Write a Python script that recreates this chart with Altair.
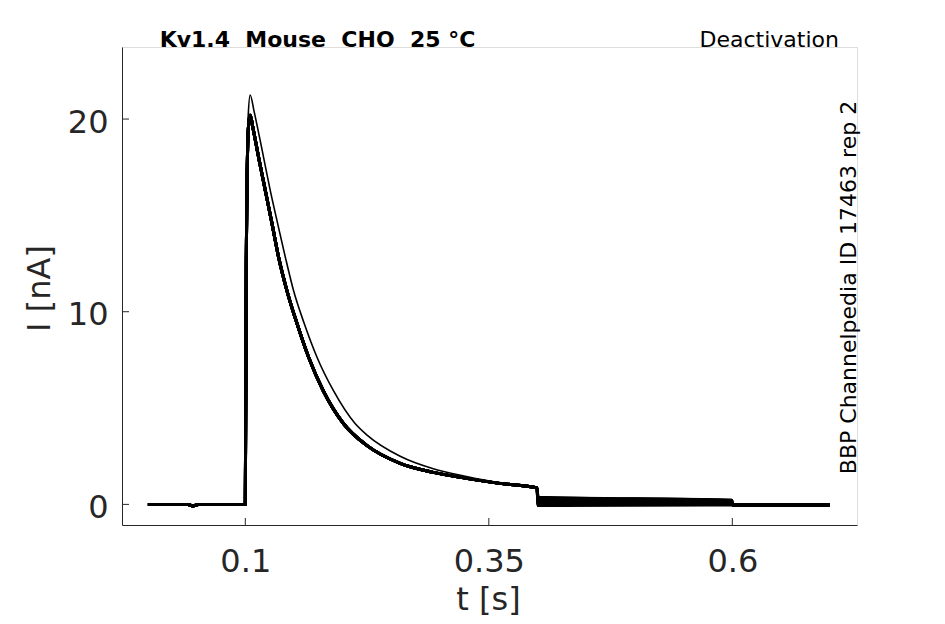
import altair as alt
import pandas as pd

FONT = "DejaVu Sans"
GREY = "#262626"
NB = "\u00a0"

# ---- data ----
# holding baseline before the activating step (t in s, I in nA)
t_base = [0.0, 0.041, 0.046, 0.052, 0.0999]
i_base = [0.0, 0.0, -0.08, 0.0, 0.0]

# first sweep (largest peak)
t_high = [0.1, 0.101, 0.103, 0.105, 0.109, 0.1188, 0.1256, 0.1331, 0.141, 0.1495,
          0.1604, 0.1735, 0.1905, 0.2127, 0.225, 0.259, 0.293, 0.327, 0.361, 0.3995]
i_high = [0.0, 12.5, 20.2, 21.25, 20.4, 18.0, 16.3, 14.6, 12.85, 11.1,
          9.4, 7.65, 5.9, 4.2, 3.6, 2.5, 1.85, 1.45, 1.13, 0.90]

# remaining sweeps (overlapping bundle)
t_low = [0.1, 0.101, 0.103, 0.105, 0.108, 0.1137, 0.1205, 0.1273, 0.1341, 0.1427,
         0.153, 0.1649, 0.180, 0.2007, 0.225, 0.259, 0.293, 0.327, 0.361, 0.3995]
i_low = [0.0, 12.5, 19.4, 20.2, 19.5, 18.0, 16.3, 14.6, 12.85, 11.1,
         9.4, 7.65, 5.9, 4.2, 3.05, 2.13, 1.66, 1.35, 1.09, 0.85]

# deactivation tails (one value per sweep at start / end of the tail step)
t_tail = [0.4005, 0.5995]
tail_start = [0.41, 0.36, 0.30, 0.25, 0.20, 0.14, 0.09, 0.04, -0.01, -0.06]
tail_end = [0.25, 0.22, 0.19, 0.16, 0.13, 0.10, 0.07, 0.04, 0.00, -0.03]

# return to holding
t_after = [0.6005, 0.7]
i_after = [-0.03, -0.03]

x_ticks = [0.1, 0.35, 0.6]
y_ticks = [0, 10, 20]

rows = []
for k in range(len(tail_start)):
    if k == 0:
        tp, ip, w = t_high, i_high, 1.6
    else:
        tp, ip, w = t_low, i_low, 3.0
    ts = t_base + tp + t_tail + t_after
    vs = i_base + ip + [tail_start[k], tail_end[k]] + i_after
    for t, v in zip(ts, vs):
        rows.append({"t": t, "I": v, "sweep": k, "w": w})
df = pd.DataFrame(rows)

x_scale = alt.Scale(domain=[-0.0266, 0.728], nice=False, zero=False)
y_scale = alt.Scale(domain=[-1.07, 23.74], nice=False, zero=False)

lines = alt.Chart(df).mark_line(color="black", strokeJoin="round",
                                interpolate="monotone").encode(
    x=alt.X("t:Q", scale=x_scale,
            axis=alt.Axis(values=x_ticks, format=".2~f", tickSize=0, labelPadding=21,
                          labelFontSize=32, labelFont=FONT, labelColor=GREY,
                          labelFlush=False, labelOverlap=False,
                          domainColor=GREY, domainWidth=1, grid=False,
                          title="t [s]", titleFont=FONT, titleFontSize=32,
                          titleFontWeight="normal", titleColor=GREY,
                          titleX=366, titleY=84, titleBaseline="alphabetic",
                          titleAlign="center")),
    y=alt.Y("I:Q", scale=y_scale,
            axis=alt.Axis(values=y_ticks, format="d", tickSize=0, labelPadding=14,
                          labelOffset=3, labelFontSize=32, labelFont=FONT,
                          labelColor=GREY, labelFlush=False, labelOverlap=False,
                          domainColor=GREY, domainWidth=1, grid=False,
                          title="I [nA]", titleFont=FONT, titleFontSize=32,
                          titleFontWeight="normal", titleColor=GREY,
                          titleAngle=270, titleX=-73, titleY=241,
                          titleBaseline="alphabetic", titleAlign="center")),
    detail="sweep:N",
    strokeWidth=alt.StrokeWidth("w:Q", scale=None),
    order="t:Q",
)

xt = alt.Chart(pd.DataFrame({"t": x_ticks})).mark_rule(color=GREY, strokeWidth=1).encode(
    x=alt.X("t:Q", scale=x_scale), y=alt.value(478), y2=alt.value(471))
yt = alt.Chart(pd.DataFrame({"I": y_ticks})).mark_rule(color=GREY, strokeWidth=1).encode(
    y=alt.Y("I:Q", scale=y_scale), x=alt.value(0), x2=alt.value(7))

title_str = "Kv1.4 " + NB + "Mouse " + NB + "CHO " + NB + "25 °C"
title_txt = alt.Chart(pd.DataFrame({"s": [title_str]})).mark_text(
    font=FONT, fontSize=22, fontWeight="bold", color="black", align="center",
    baseline="alphabetic").encode(x=alt.value(195.5), y=alt.value(0), text="s:N")
prot_txt = alt.Chart(pd.DataFrame({"s": ["Deactivation"]})).mark_text(
    font=FONT, fontSize=22, color="black", align="right",
    baseline="alphabetic").encode(x=alt.value(717), y=alt.value(0), text="s:N")
id_txt = alt.Chart(pd.DataFrame({"s": ["BBP Channelpedia ID 17463 rep 2"]})).mark_text(
    font=FONT, fontSize=22, color="black", align="center", angle=270,
    baseline="alphabetic").encode(x=alt.value(734), y=alt.value(240.5), text="s:N")

chart = alt.layer(lines, xt, yt, title_txt, prot_txt, id_txt).properties(
    width=735, height=478,
    padding={"left": 114, "top": 39, "right": 80, "bottom": 91},
    autosize="none",
).configure_view(stroke=None).configure(background="white")

chart.save("out.html", embed_options={"renderer": "svg", "actions": False})
